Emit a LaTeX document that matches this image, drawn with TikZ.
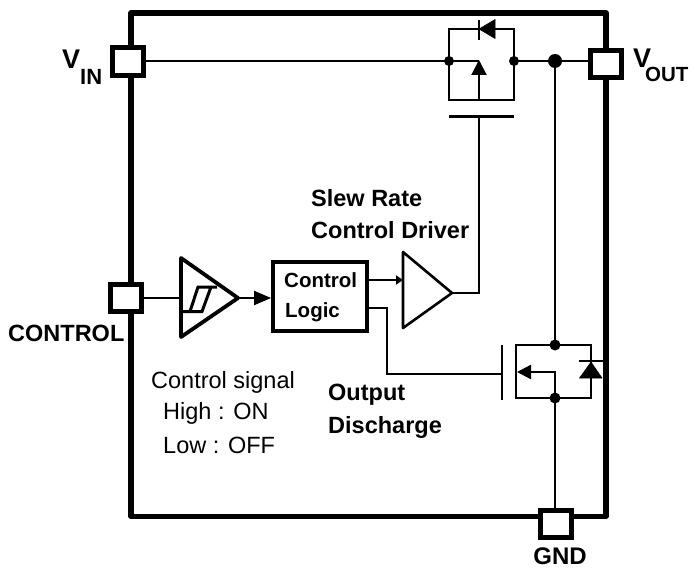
\documentclass[tikz,border=0pt]{standalone}
\usepackage{fontspec}
\setmainfont{Liberation Sans}
\usepackage{tikz}
\usetikzlibrary{calc,arrows.meta}
\tikzset{>=latex}
\tikzset{
pad/.style={draw, line width=5pt, fill=white, minimum width=31pt, minimum height=27.5pt, inner sep=0pt},
wire/.style={line width=2pt},
thinwire/.style={line width=1.5pt},
dot/.style={circle, fill=black, inner sep=0pt, minimum size=10pt},
lbl/.style={font=\bfseries\fontsize{23.5}{26}\selectfont, inner sep=0pt},
boxlbl/.style={font=\bfseries\fontsize{20.5}{22}\selectfont, inner sep=0pt},
pinlbl/.style={font=\bfseries\fontsize{27}{27}\selectfont, inner sep=0pt},
plain/.style={font=\fontsize{23.5}{26}\selectfont, inner sep=0pt}
}
\begin{document}
\begin{tikzpicture}[x=1pt,y=-1pt]
\useasboundingbox (0,0) rectangle (693,569);
% package outline
\draw[line width=5.4pt, line join=round] (131,13) rectangle (606,516.5);
% pins
\node[pad] (vin) at (128,61.5) {};
\node[pad] (vout) at (606,64) {};
\node[pad] (ctrl) at (125.5,298) {};
\node[pad] (gnd) at (556,524) {};
\node[pinlbl, anchor=base west] (vinlbl) at (62,69) {V\raisebox{-16pt}{\fontsize{22}{22}\selectfont IN}};
\node[pinlbl, anchor=base west] (voutlbl) at (633,68) {V\hspace{-6pt}\raisebox{-14pt}{\fontsize{20.5}{21}\selectfont OUT}};
\node[lbl, anchor=west] (ctrllbl) at (8,333) {CONTROL};
\node[lbl, anchor=base, font=\bfseries\fontsize{24}{25}\selectfont] (gndlbl) at (560,564.5) {GND};
% control chain
\coordinate (st) at (181,298);
\draw[line width=3.8pt, line join=round] (181,258) -- (238,298) -- (181,337) -- cycle;
\draw[line width=3pt] (181,311.5) -- (202,311.5) -- (211,287) (190,311.5) -- (198,287) -- (217,287);
\node[draw, line width=3.8pt, minimum width=94pt, minimum height=69pt] (logic) at (320,296.5) {};
\node[boxlbl, anchor=west] (logic1) at (284,280) {Control};
\node[boxlbl, anchor=west] (logic2) at (285,312) {Logic};
\draw[line width=2.6pt, line join=round] (403,252) -- (452,293) -- (403,328) -- cycle;
\coordinate (drvin) at (403,280);
\coordinate (drvout) at (452,293);
\draw[thinwire] (ctrl.east) -- (st);
\draw[wire, -{Triangle[length=17pt,width=14pt]}] (238,298) -- (logic.west |- 0,298);
\draw[wire, -{Triangle[length=7pt,width=9pt]}] (logic.east |- 0,280) -- (drvin);
\draw[thinwire] (logic.east |- 0,308) -- (387,308) -- (387,374) -- (502,374);
% pass transistor
\coordinate (ps) at (449,61);
\coordinate (pd) at (514,61);
\coordinate (tap) at (555,61);
\draw[thinwire] (vin.east |- ps) -- (ps);
\draw[wire] (ps) -- (479,61);
\draw[thinwire] (pd) -- (vout.west |- pd);
\draw[wire] (ps) -- (449,29) -- (514,29) -- (pd);
\draw[wire] (ps) -- (449,100) -- (514,100) -- (pd);
\draw[wire, -{Triangle[length=15pt,width=15pt]}] (479,100) -- (479,60);
\draw[fill=black, line width=0.5pt] (479,29) -- (495,19.5) -- (495,38.5) -- cycle;
\draw[wire] (479,20) -- (479,40);
\draw[line width=3pt] (449,117) -- (514,117);
\draw[thinwire] (drvout) -- (479,293) -- (479,117);
\node[dot] (dots) at (ps) {};
\node[dot] (dotd) at (pd) {};
\node[dot, minimum size=14pt] (dott) at (tap) {};
% discharge transistor
\coordinate (nd) at (555,345);
\coordinate (ns) at (555,398);
\draw[line width=2.2pt] (tap) -- (nd);
\draw[line width=2.4pt] (502,345) -- (502,400);
\draw[line width=2.4pt] (nd) -- (516,345) -- (516,398) -- (ns);
\draw[line width=2.4pt] (nd) -- (591,345) -- (591,398) -- (ns);
\draw[line width=2.4pt, -{Triangle[length=14pt,width=14pt]}] (ns) -- (555,372) -- (517,372);
\draw[fill=black, line width=0.5pt] (591,362) -- (579.5,378) -- (602,378) -- cycle;
\draw[line width=2.4pt] (579,361) -- (603,361);
\draw[wire] (ns) -- (gnd.north -| ns);
\node[dot, minimum size=11pt] (dotn1) at (nd) {};
\node[dot, minimum size=11pt] (dotn2) at (ns) {};
% texts
\node[lbl, anchor=west] (slew1) at (311,198) {Slew Rate};
\node[lbl, anchor=west] (slew2) at (311,230) {Control Driver};
\node[lbl, anchor=west] (out1) at (328,395) {Output};
\node[lbl, anchor=west] (out2) at (328,427) {Discharge};
\node[plain, anchor=west] (sig1) at (151,382) {Control signal};
\node[plain, anchor=west] (sig2) at (163,413) {High : ON};
\node[plain, anchor=west] (sig3) at (163,445) {Low : OFF};
\end{tikzpicture}
\end{document}
